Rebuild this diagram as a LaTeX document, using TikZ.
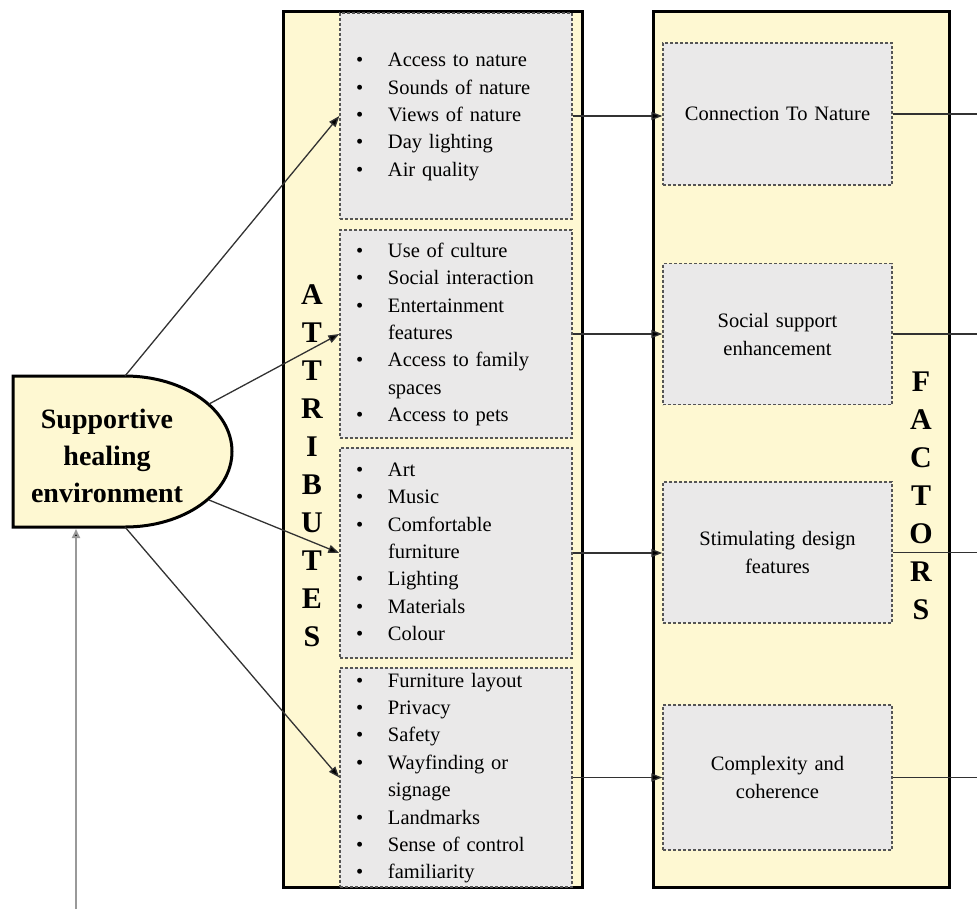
\documentclass[tikz,border=0pt]{standalone}
\usepackage{fontspec}
\setmainfont{Liberation Serif}
\usetikzlibrary{arrows.meta}
\definecolor{cream}{RGB}{254,248,210}
\definecolor{boxgray}{RGB}{234,233,233}
\definecolor{dashgray}{RGB}{85,85,85}
\definecolor{linegray}{RGB}{50,50,50}
\begin{document}
\begin{tikzpicture}[x=1pt,y=-1pt,
  outerbox/.style={draw=black, line width=3pt, fill=cream},
  dbox/.style={draw=dashgray, fill=boxgray, dash pattern=on 3pt off 2pt, line width=1.4pt},
  attrbox/.style={dbox, minimum width=232pt, text width=200pt, inner xsep=16pt, inner ysep=0pt, align=left, font=\fontsize{20.5}{27.4}\selectfont},
  factbox/.style={dbox, minimum width=229pt, text width=205pt, inner xsep=12pt, align=center, font=\fontsize{20.5}{28}\selectfont},
  letter/.style={font=\fontsize{30}{30}\selectfont\bfseries, inner sep=0pt},
  conn/.style={draw=linegray, line width=1.3pt, -{Triangle[length=11pt,width=8pt,fill=black]}},
  plain/.style={draw=linegray, line width=1.3pt}
]
\useasboundingbox (0,0) rectangle (977,911);

% outer boxes
\path[outerbox] (283,11) rectangle (582,887);
\path[outerbox] (653,11) rectangle (949,887);

% attribute boxes
\node[attrbox, minimum height=206pt] (a1) at (456,116) {\begin{tabular}{@{}p{32pt}@{}l@{}}
\textbullet & Access to nature\\
\textbullet & Sounds of nature\\
\textbullet & Views of nature\\
\textbullet & Day lighting\\
\textbullet & Air quality
\end{tabular}};
\node[attrbox, minimum height=208pt] (a2) at (456,334) {\begin{tabular}{@{}p{32pt}@{}l@{}}
\textbullet & Use of culture\\
\textbullet & Social interaction\\
\textbullet & Entertainment\\
 & features\\
\textbullet & Access to family\\
 & spaces\\
\textbullet & Access to pets
\end{tabular}};
\node[attrbox, minimum height=210pt] (a3) at (456,553) {\begin{tabular}{@{}p{32pt}@{}l@{}}
\textbullet & Art\\
\textbullet & Music\\
\textbullet & Comfortable\\
 & furniture\\
\textbullet & Lighting\\
\textbullet & Materials\\
\textbullet & Colour
\end{tabular}};
\node[attrbox, minimum height=219pt] (a4) at (456,777.5) {\begin{tabular}{@{}p{32pt}@{}l@{}}
\textbullet & Furniture layout\\
\textbullet & Privacy\\
\textbullet & Safety\\
\textbullet & Wayfinding or\\
 & signage\\
\textbullet & Landmarks\\
\textbullet & Sense of control\\
\textbullet & familiarity
\end{tabular}};

% factor boxes
\node[factbox, minimum height=142pt] (f1) at (777.5,114) {Connection To Nature};
\node[factbox, minimum height=141pt] (f2) at (777.5,334) {Social support\\enhancement};
\node[factbox, minimum height=141pt] (f3) at (777.5,552.5) {Stimulating design\\features};
\node[factbox, minimum height=145pt] (f4) at (777.5,777.5) {Complexity and\\coherence};

% vertical letters
\foreach \ch [count=\i from 0] in {A,T,T,R,I,B,U,T,E,S}
  \node[letter, name=la\i] at (312,295+38*\i) {\ch};
\foreach \ch [count=\i from 0] in {F,A,C,T,O,R,S}
  \node[letter, name=lf\i] at (921,382+38*\i) {\ch};

% supportive healing environment shape
\path[draw=black, line width=3pt, fill=cream]
  (13,376) -- (125,376) arc[start angle=90, end angle=-90, x radius=107pt, y radius=75.5pt] -- (13,527) -- cycle;
\node[font=\fontsize{28}{37}\selectfont\bfseries, align=center, inner sep=0pt] (env) at (107,456) {Supportive\\healing\\environment};

% named connector ends
\coordinate (e1) at (125,376);
\coordinate (e2) at (209,404);
\coordinate (e3) at (209,500);
\coordinate (e4) at (125,527);
\coordinate (eb) at (76,529);
\coordinate (s0) at (76,909);
\coordinate (rt) at (977,0);

% connectors from environment to attributes
\draw[conn] (e1) -- (a1.west);
\draw[conn] (e2) -- (a2.west);
\draw[conn] (e3) -- (a3.west);
\draw[conn] (e4) -- (a4.west);

% attributes to factors
\foreach \k in {1,2,3,4}{
  \draw[conn] (a\k.east) -- (a\k.east -| f\k.west);
  \draw[plain] (f\k.east) -- (f\k.east -| rt);
}

% bottom arrow
\draw[draw=gray!80, line width=2pt, -{Triangle[length=9pt,width=8pt,fill=black]}] (s0) -- (eb);
\end{tikzpicture}
\end{document}
